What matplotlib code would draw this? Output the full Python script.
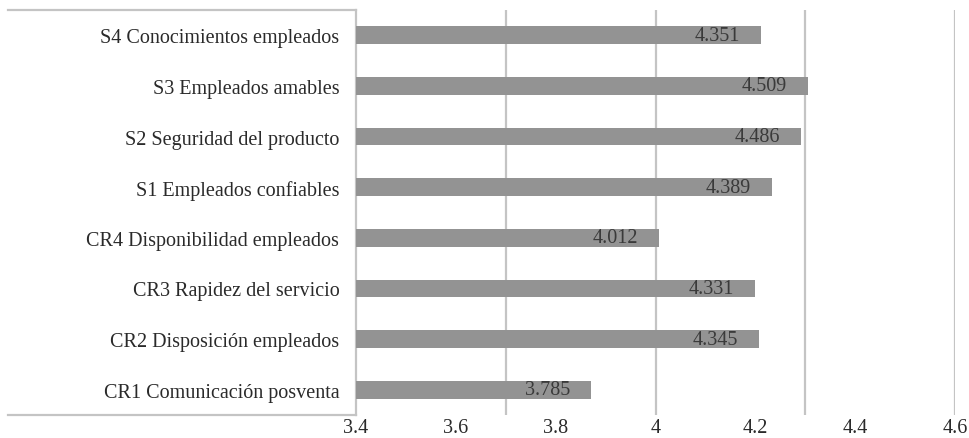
import matplotlib.pyplot as plt
from matplotlib.lines import Line2D
import numpy as np

# data (bottom to top)
categorias = ['CR1 Comunicación posventa', 'CR2 Disposición empleados',
              'CR3 Rapidez del servicio', 'CR4 Disponibilidad empleados',
              'S1 Empleados confiables', 'S2 Seguridad del producto',
              'S3 Empleados amables', 'S4 Conocimientos empleados']
valores = [3.785, 4.345, 4.331, 4.012, 4.389, 4.486, 4.509, 4.351]

# axis as drawn in the original (labels don't match gridlines)
x_min, x_max = 3.0, 5.0
lineas_guia = [3.5, 4.0, 4.5, 5.0]
etiquetas_x = ['3.4', '3.6', '3.8', '4', '4.2', '4.4', '4.6']

plt.rcParams['font.family'] = ['Liberation Serif', 'DejaVu Serif']

fig = plt.figure(figsize=(9.69, 4.39), dpi=100)
ax = fig.add_axes([356/969, 23/439, 599/969, 405/439])

y = np.arange(len(categorias))
ax.barh(y, [v - x_min for v in valores], left=x_min, height=0.35,
        color='#939393', zorder=3)

for yi, v in zip(y, valores):
    ax.annotate(f'{v:.3f}', (v, yi), xytext=(-15, 0), textcoords='offset points',
                ha='right', va='center', fontsize=14.5, color='#3a3a3a', zorder=4)

for g in lineas_guia:
    ax.axvline(g, color='#c4c4c4', linewidth=1.6, zorder=1)

ax.set_xlim(x_min, x_max)
ax.set_ylim(-0.5, len(categorias) - 0.5)
ax.set_yticks(y)
ax.set_yticklabels(categorias, fontsize=14.5, color='#2a2a2a')
ax.set_xticks(np.linspace(x_min, x_max, len(etiquetas_x)))
ax.set_xticklabels(etiquetas_x, fontsize=14.5, color='#2a2a2a')
ax.tick_params(length=0)
ax.tick_params(axis='y', pad=12)
ax.tick_params(axis='x', pad=2)

for s in ['top', 'right', 'bottom']:
    ax.spines[s].set_visible(False)
ax.spines['left'].set_color('#c4c4c4')
ax.spines['left'].set_linewidth(1.6)

# frame around the category area
x0 = 8/969
x1 = 356/969
for yy in [1 - 11/439, 23/439]:
    fig.add_artist(Line2D([x0, x1], [yy, yy], color='#c4c4c4', linewidth=1.6))

fig.savefig('out.png', dpi=100)
